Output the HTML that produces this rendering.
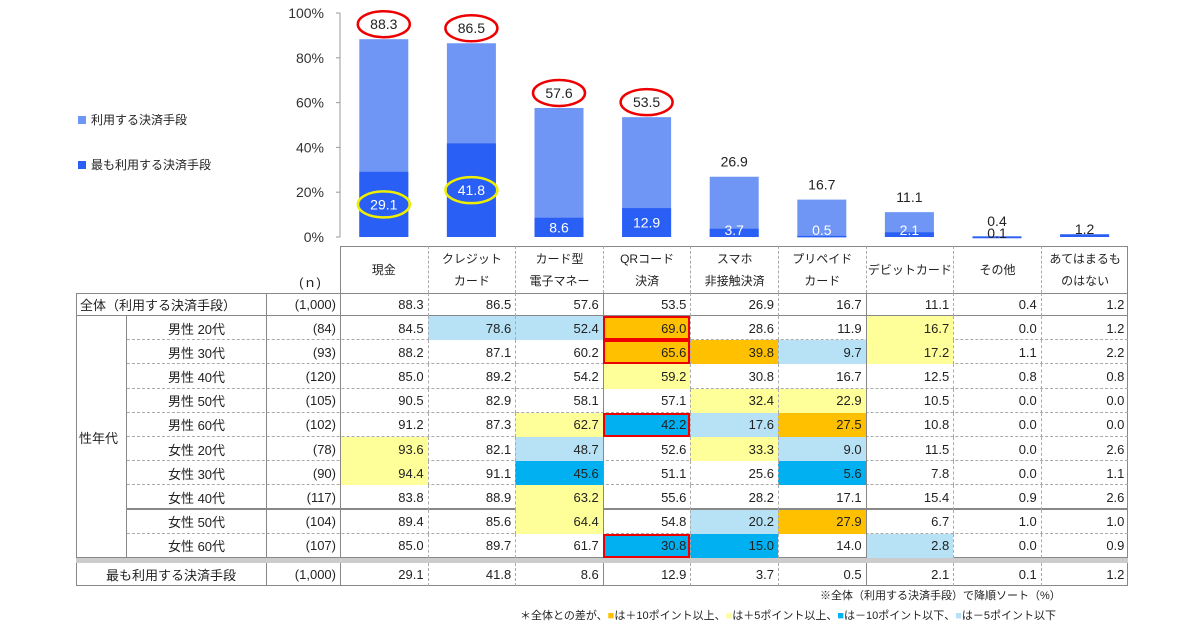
<!DOCTYPE html>
<html><head><meta charset="utf-8">
<style>
body{margin:0;background:#fff;width:1200px;height:630px;overflow:hidden;position:relative;font-family:"Liberation Sans","Noto Sans CJK JP",sans-serif;color:#222}
.c{position:absolute;box-sizing:border-box;font-size:13px;display:flex;align-items:center}
.t{position:absolute;font-size:12px;white-space:nowrap}
</style></head><body>
<svg id="chart" width="1200" height="250" style="position:absolute;left:0;top:0" font-family="Liberation Sans, Noto Sans CJK JP, sans-serif"></svg>
<div class="t" style="left:78px;top:111px"><span style="display:inline-block;width:8px;height:8px;background:#6f96f5;margin-right:5px"></span>利用する決済手段</div>
<div class="t" style="left:78px;top:156px"><span style="display:inline-block;width:8px;height:8px;background:#2a5ff5;margin-right:5px"></span>最も利用する決済手段</div>
<div id="tbl"></div>
<div class="t" style="left:820px;top:587px;font-size:11px">※全体（利用する決済手段）で降順ソート（%）</div>
<div class="t" style="left:520px;top:607px;font-size:11px">＊全体との差が、<span style="color:#ffc000">■</span>は＋10ポイント以上、<span style="color:#ffff99">■</span>は＋5ポイント以上、<span style="color:#00b0f0">■</span>は－10ポイント以下、<span style="color:#b7e1f5">■</span>は－5ポイント以下</div>
<script>
const categories=["現金","クレジット<br>カード","カード型<br>電子マネー","QRコード<br>決済","スマホ<br>非接触決済","プリペイド<br>カード","デビットカード","その他","あてはまるも<br>のはない"];
const usedValues=[88.3,86.5,57.6,53.5,26.9,16.7,11.1,0.4,1.2];
const mostValues=[29.1,41.8,8.6,12.9,3.7,0.5,2.1,0.1,1.2];
const yTicks=[0,20,40,60,80,100];
const rowLabels=["男性 20代","男性 30代","男性 40代","男性 50代","男性 60代","女性 20代","女性 30代","女性 40代","女性 50代","女性 60代"];
const rowN=["(84)","(93)","(120)","(105)","(102)","(78)","(90)","(117)","(104)","(107)"];
const rowValues=[
[84.5,78.6,52.4,69.0,28.6,11.9,16.7,0.0,1.2],
[88.2,87.1,60.2,65.6,39.8,9.7,17.2,1.1,2.2],
[85.0,89.2,54.2,59.2,30.8,16.7,12.5,0.8,0.8],
[90.5,82.9,58.1,57.1,32.4,22.9,10.5,0.0,0.0],
[91.2,87.3,62.7,42.2,17.6,27.5,10.8,0.0,0.0],
[93.6,82.1,48.7,52.6,33.3,9.0,11.5,0.0,2.6],
[94.4,91.1,45.6,51.1,25.6,5.6,7.8,0.0,1.1],
[83.8,88.9,63.2,55.6,28.2,17.1,15.4,0.9,2.6],
[89.4,85.6,64.4,54.8,20.2,27.9,6.7,1.0,1.0],
[85.0,89.7,61.7,30.8,15.0,14.0,2.8,0.0,0.9]];
const redBox=[[0,3],[1,3],[4,3],[9,3]];
const NS="http://www.w3.org/2000/svg";
const svg=document.getElementById('chart');
const X0=340,CW=87.6,Y0=237,YS=2.24;
const yPos=v=>Y0-v*YS, xC=i=>X0+CW*(i+0.5);
function el(tag,a,txt){const e=document.createElementNS(NS,tag);for(const k in a)e.setAttribute(k,a[k]);if(txt!=null)e.textContent=txt;svg.appendChild(e);return e;}
const ax=el('line',{x1:X0,x2:X0,y1:yPos(100),y2:Y0,stroke:'#999'});

yTicks.forEach(t=>{const l=el('line',{x1:X0-4,x2:X0,y1:yPos(t),y2:yPos(t),stroke:'#999'});

const tx=el('text',{x:X0-16,y:yPos(t)+5,'text-anchor':'end','font-size':14,fill:'#333'},t+'%');
});
usedValues.forEach((v,i)=>{const bw=49,x=xC(i)-bw/2;
const b=el('rect',{x:x,y:yPos(v),width:bw,height:Math.max(v*YS,1.5),fill:'#6f96f5'});

const m=mostValues[i];const b2=el('rect',{x:x,y:yPos(m),width:bw,height:Math.max(m*YS,1.5),fill:'#2a5ff5'});

const ly=yPos(v)-10;
if(i!=8){const lt=el('text',{x:xC(i),y:ly,'text-anchor':'middle','font-size':14,fill:'#222'},v.toFixed(1));
}
if(i<4){const e=el('ellipse',{cx:xC(i),cy:ly-5,rx:26,ry:13,fill:'none',stroke:'#e00',"stroke-width":2.5});
}
let my=Math.min(yPos(m/2)+5,Y0-2);if(i>=7)my=Y0+1;
const mt=el('text',{x:xC(i),y:i==8?Y0-3:my,'text-anchor':'middle','font-size':14,fill:i>=7?'#222':'#fff'},m.toFixed(1));

if(i<2){const e=el('ellipse',{cx:xC(i),cy:my-5,rx:26,ry:13,fill:'none',stroke:'#ee0',"stroke-width":2.5});
}
});
const colors={o:'#ffc000',y:'#ffff99',d:'#00b0f0',l:'#b7e1f5'};
const tbl=document.getElementById('tbl');
function cell(x,y,w,h,html,style,name){const d=document.createElement('div');d.className='c';
d.style.cssText=`left:${x}px;top:${y}px;width:${w}px;height:${h}px;`+(style||'');d.innerHTML=html;
tbl.appendChild(d);return d;}
const T=246,HH=47,RT=293,TRH=23,RH=24.2;
cell(340,T,788,HH,'','border:1.5px solid #888;border-bottom:none','header-box');
categories.forEach((c,i)=>cell(X0+CW*i,T,CW,HH,c,'justify-content:center;text-align:center;line-height:22px;font-size:12px;'+(i?'border-left:1px dashed #aaa;':''),'column-header'));
cell(280,T+24,60,22,'(ｎ)','justify-content:center','n-header');
function cls(d){return d>=10?'o':d>=5?'y':d<=-10?'d':d<=-5?'l':null;}
function dataRow(y,h,vals,rowIdx){vals.forEach((v,i)=>{let st='justify-content:flex-end;padding-right:4px;border-left:1px '+(i%3==0?'solid #888':'dashed #aaa')+';';
if(rowIdx>=0){const c=cls(v-usedValues[i]);if(c)st+='background:'+colors[c]+';';
if(redBox.some(r=>r[0]==rowIdx&&r[1]==i))st+='outline:2px solid #e00;outline-offset:-2px;';}
cell(X0+CW*i,y,CW,h,v.toFixed(1),st,'table-cell');});}
cell(76,RT,1052,TRH,'','border:1.5px solid #888','total-row-box');
cell(76,RT,190,TRH,'全体（利用する決済手段）','padding-left:4px;','total-row-label');
cell(266,RT,74,TRH,'(1,000)','justify-content:flex-end;padding-right:4px;border-left:1.5px solid #888','total-n');
dataRow(RT,TRH,usedValues,-1);
const GT=RT+TRH;
cell(76,GT,1052,RH*10,'','border:1.5px solid #888;border-top:none','group-box');
cell(76,GT,51,RH*10,'性年代','padding-left:3px;border-right:1.5px solid #888','group-label');
rowValues.forEach((r,k)=>{const y=GT+RH*k;
cell(127,y,1001,RH,'',k<9?(k==7?'border-bottom:2px solid #888':'border-bottom:1px dashed #aaa'):'','row-line');
cell(127,y,139,RH,rowLabels[k],'justify-content:center','row-label');
cell(266,y,74,RH,rowN[k],'justify-content:flex-end;padding-right:4px;border-left:1.5px solid #888','row-n');
dataRow(y,RH,r,k);});
const BT=GT+RH*10;
cell(76,BT,1052,5,'','background:#ccc','separator-band');
cell(76,BT+5,1052,TRH,'','border:1.5px solid #888;border-top:none','most-row-box');
cell(76,BT+5,190,TRH,'最も利用する決済手段','justify-content:center','most-row-label');
cell(266,BT+5,74,TRH,'(1,000)','justify-content:flex-end;padding-right:4px;border-left:1.5px solid #888','most-n');
dataRow(BT+5,TRH,mostValues,-1);
</script>
</body></html>
